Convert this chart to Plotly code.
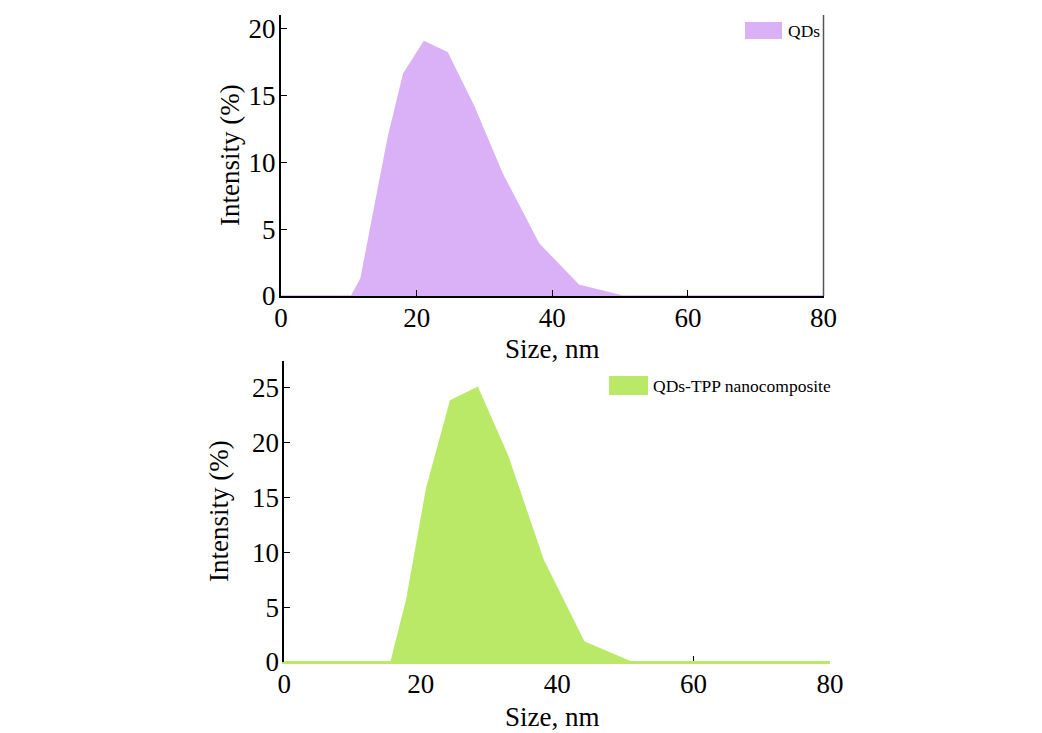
import plotly.graph_objects as go

# ---- data ----
size_qds = [0, 10.4, 11.8, 15.8, 18.1, 21.1, 24.5, 28.4, 32.6, 38.0, 43.9, 50.3, 80]
intensity_qds = [0, 0, 1.3, 11.8, 16.6, 19.0, 18.2, 14.2, 9.15, 3.9, 0.8, 0, 0]

size_tpp = [0, 15.7, 18.0, 20.9, 24.4, 28.3, 32.7, 37.9, 43.9, 50.7, 80]
intensity_tpp = [0, 0, 5.7, 15.8, 23.8, 25.0, 18.8, 9.3, 1.8, 0, 0]

x_ticks = [0, 20, 40, 60, 80]
name_qds = "QDs"
name_tpp = "QDs-TPP nanocomposite"
x_title = "Size, nm"
y_title = "Intensity (%)"

W, H = 1042, 733
FONT = "Liberation Serif, Times New Roman, serif"
purple = "#DAB1F7"
green = "#BAE968"


def px_x(p):
    return p / W


def px_y(p):
    return 1 - p / H


fig = go.Figure()

fig.add_trace(go.Scatter(
    x=size_qds, y=intensity_qds, mode="lines", fill="tozeroy",
    line=dict(color=purple, width=1.5), fillcolor=purple,
    name=name_qds, xaxis="x", yaxis="y", showlegend=False,
))
fig.add_trace(go.Scatter(
    x=size_tpp, y=intensity_tpp, mode="lines", fill="tozeroy",
    line=dict(color=green, width=2), fillcolor=green,
    name=name_tpp, xaxis="x2", yaxis="y2", showlegend=False,
))

axis_common = dict(
    showgrid=False, zeroline=False, showline=True,
    linewidth=2, ticks="inside", ticklen=6, tickwidth=1, tickcolor="black",
    tickfont=dict(family=FONT, size=27, color="black"),
)

fig.update_layout(
    width=W, height=H,
    margin=dict(l=0, r=0, t=0, b=0, autoexpand=False),
    paper_bgcolor="white", plot_bgcolor="white",
    font=dict(family=FONT, color="black"),
    showlegend=False,
    xaxis=dict(
        domain=[px_x(281), px_x(823.5)], range=[0, 80], tickvals=x_ticks,
        anchor="y", linecolor="black", ticklabelstandoff=-3, **axis_common,
    ),
    yaxis=dict(
        domain=[px_y(296), px_y(15)], range=[0, 21], dtick=5,
        anchor="x", linecolor="black", ticklabelstandoff=-2, **axis_common,
    ),
    xaxis2=dict(
        domain=[px_x(284.3), px_x(830)], range=[0, 80], tickvals=x_ticks,
        anchor="y2", layer="below traces", linecolor=green,
        ticklabelstandoff=-3, **axis_common,
    ),
    yaxis2=dict(
        domain=[px_y(662), px_y(361)], range=[0, 27.45], dtick=5,
        anchor="x2", linecolor="black", ticklabelstandoff=-2, **axis_common,
    ),
)

# right frame line of the upper panel
fig.add_shape(type="line", xref="x domain", yref="y domain",
              x0=1, x1=1, y0=0, y1=1, line=dict(color="#555555", width=1.5))

# axis titles
title_font = dict(family=FONT, size=27, color="black")
for xc, yc in [(552.5, 349), (552, 717)]:
    fig.add_annotation(text=x_title, xref="paper", yref="paper",
                       x=px_x(xc), y=px_y(yc), xanchor="center", yanchor="middle",
                       showarrow=False, font=title_font)
for xc, yc in [(230, 155), (219, 511)]:
    fig.add_annotation(text=y_title, xref="paper", yref="paper", textangle=-90,
                       x=px_x(xc), y=px_y(yc), xanchor="center", yanchor="middle",
                       showarrow=False, font=title_font)

# legends (swatch + label)
legend_font = dict(family=FONT, size=17.5, color="black")
for (x0, x1, y0, y1, tx, ty, label, col) in [
    (745, 782, 22, 39, 786, 31, name_qds, purple),
    (609, 648, 376, 395, 651, 385.5, name_tpp, green),
]:
    fig.add_shape(type="rect", xref="paper", yref="paper",
                  x0=px_x(x0), x1=px_x(x1), y0=px_y(y1), y1=px_y(y0),
                  fillcolor=col, line=dict(width=0))
    fig.add_annotation(text=label, xref="paper", yref="paper",
                       x=px_x(tx), y=px_y(ty), xanchor="left", yanchor="middle",
                       showarrow=False, font=legend_font)

fig.write_html("out.html")
